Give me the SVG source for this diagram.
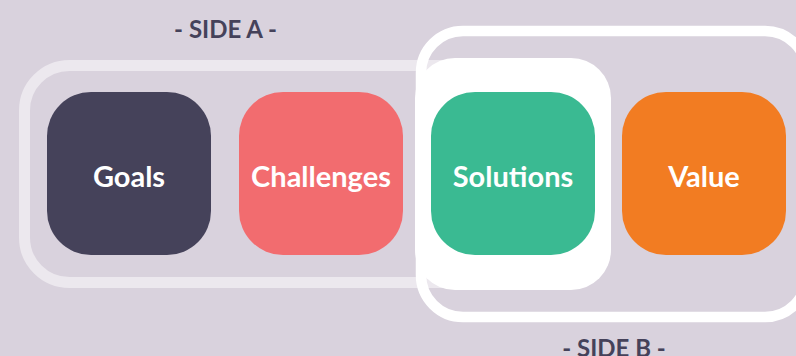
<svg xmlns="http://www.w3.org/2000/svg" width="796" height="356" viewBox="0 0 796 356">
<style>
.node text{font-family:Lato,"Liberation Sans",sans-serif;font-weight:700;font-size:29px;fill:#ffffff;text-anchor:middle}
.side{font-family:Lato,"Liberation Sans",sans-serif;font-weight:700;font-size:24px;fill:#45425a;text-anchor:middle}
</style>
<rect width="796" height="356" fill="#d9d2dd"/>
<g id="sideA">
<rect x="24.5" y="65.5" width="530" height="217" rx="45" fill="none" stroke="#ece8ee" stroke-width="11"/>
<text class="side" x="225.5" y="38">- SIDE A -</text>
</g>
<g id="sideB">
<rect x="421" y="31" width="386" height="286" rx="42" fill="none" stroke="#ffffff" stroke-width="10.5"/>
<rect x="415" y="58" width="196" height="232" rx="40" fill="#ffffff"/>
<text class="side" x="614" y="357">- SIDE B -</text>
</g>
<g id="connectors"></g>
<g id="goals" class="node">
<rect x="47" y="92" width="164" height="163" rx="44" fill="#45425a"/>
<text x="129" y="187">Goals</text>
</g>
<g id="challenges" class="node">
<rect x="239" y="92" width="164" height="163" rx="44" fill="#f26c6f"/>
<text x="321" y="187">Challenges</text>
</g>
<g id="solutions" class="node">
<rect x="431" y="92" width="164" height="163" rx="44" fill="#3aba92"/>
<text x="513" y="187">Solutions</text>
</g>
<g id="value" class="node">
<rect x="622" y="92" width="164" height="163" rx="44" fill="#f27c22"/>
<text x="704" y="187">Value</text>
</g>
</svg>
